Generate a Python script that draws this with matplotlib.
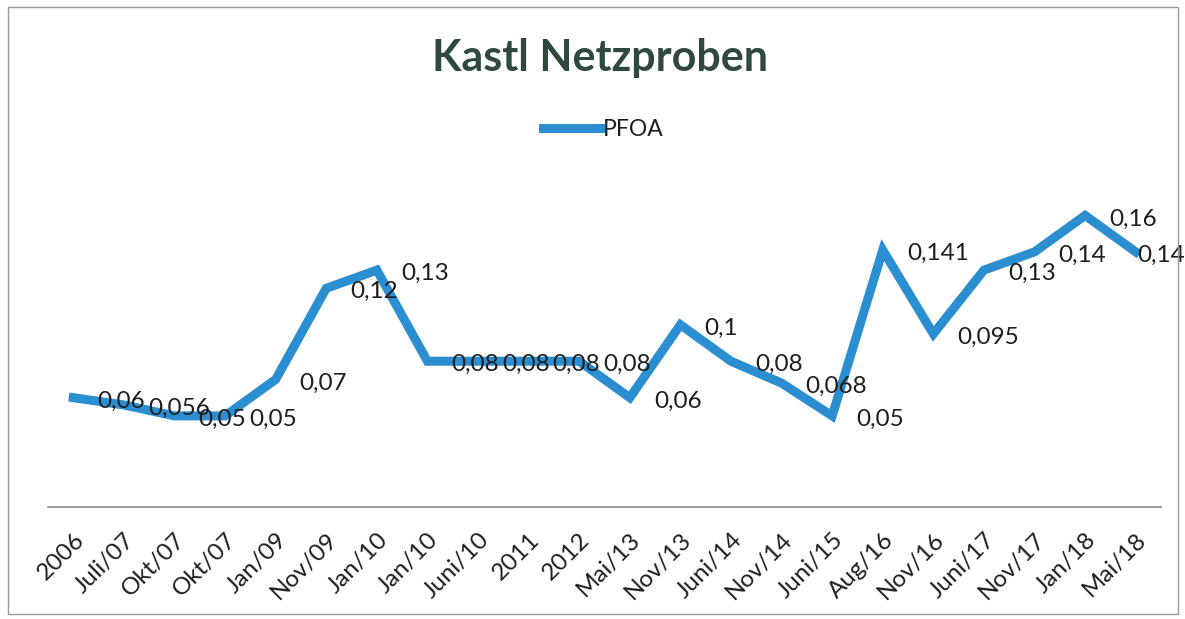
import matplotlib
matplotlib.use("Agg")
import matplotlib.pyplot as plt
from matplotlib.patches import Rectangle

# data
dates = ["2006", "Juli/07", "Okt/07", "Okt/07", "Jan/09", "Nov/09", "Jan/10",
         "Jan/10", "Juni/10", "2011", "2012", "Mai/13", "Nov/13", "Juni/14",
         "Nov/14", "Juni/15", "Aug/16", "Nov/16", "Juni/17", "Nov/17",
         "Jan/18", "Mai/18"]
pfoa = [0.06, 0.056, 0.05, 0.05, 0.07, 0.12, 0.13, 0.08, 0.08, 0.08, 0.08,
        0.06, 0.1, 0.08, 0.068, 0.05, 0.141, 0.095, 0.13, 0.14, 0.16, 0.14]

W, H, DPI = 1185, 619, 100
blue = "#2b8ed0"
dark = "#1e1e1e"

plt.rcParams["font.family"] = ["Lato", "DejaVu Sans"]

fig = plt.figure(figsize=(W / DPI, H / DPI), dpi=DPI)
ax = fig.add_axes([48 / W, (H - 507) / H, 1113 / W, 328 / H])

x = list(range(len(dates)))
ax.plot(x, pfoa, color=blue, lw=6.5, solid_joinstyle="miter", label="PFOA")
ax.set_xlim(-0.5, len(dates) - 0.5)
ax.set_ylim(0, 0.18)

# data labels, Excel style (right of point)
for i, v in enumerate(pfoa):
    txt = f"{v:g}".replace(".", ",")
    dx = 24 if i < len(pfoa) - 1 else 2
    ax.annotate(txt, (i, v), xytext=(dx * 0.72, -2.5), textcoords="offset points",
                ha="left", va="center", fontsize=17.5, color=dark)

ax.set_xticks(x)
ax.set_xticklabels(dates, rotation=45, ha="right", va="top",
                   rotation_mode="anchor", fontsize=17.5, color=dark)
ax.tick_params(axis="x", length=0, pad=16)
ax.set_yticks([])
for s in ["top", "right", "left"]:
    ax.spines[s].set_visible(False)
ax.spines["bottom"].set_color("#8c8c8c")
ax.spines["bottom"].set_linewidth(1.2)

fig.text(600 / W, 1 - 58 / H, "Kastl Netzproben", ha="center", va="center",
         fontsize=31, fontweight="bold", color="#2f4a3c")

leg = fig.legend(loc="center", bbox_to_anchor=(603 / W, 1 - 130 / H),
                 frameon=False, fontsize=16.5, handlelength=2.5, handletextpad=0.1)
for t in leg.get_texts():
    t.set_color(dark)

# faint chart border
fig.patches.append(Rectangle((8 / W, 5 / H), 1170 / W, 607 / H,
                             transform=fig.transFigure, fill=False,
                             edgecolor="#9a9a9a", lw=1))

fig.savefig("out.png", dpi=DPI)
